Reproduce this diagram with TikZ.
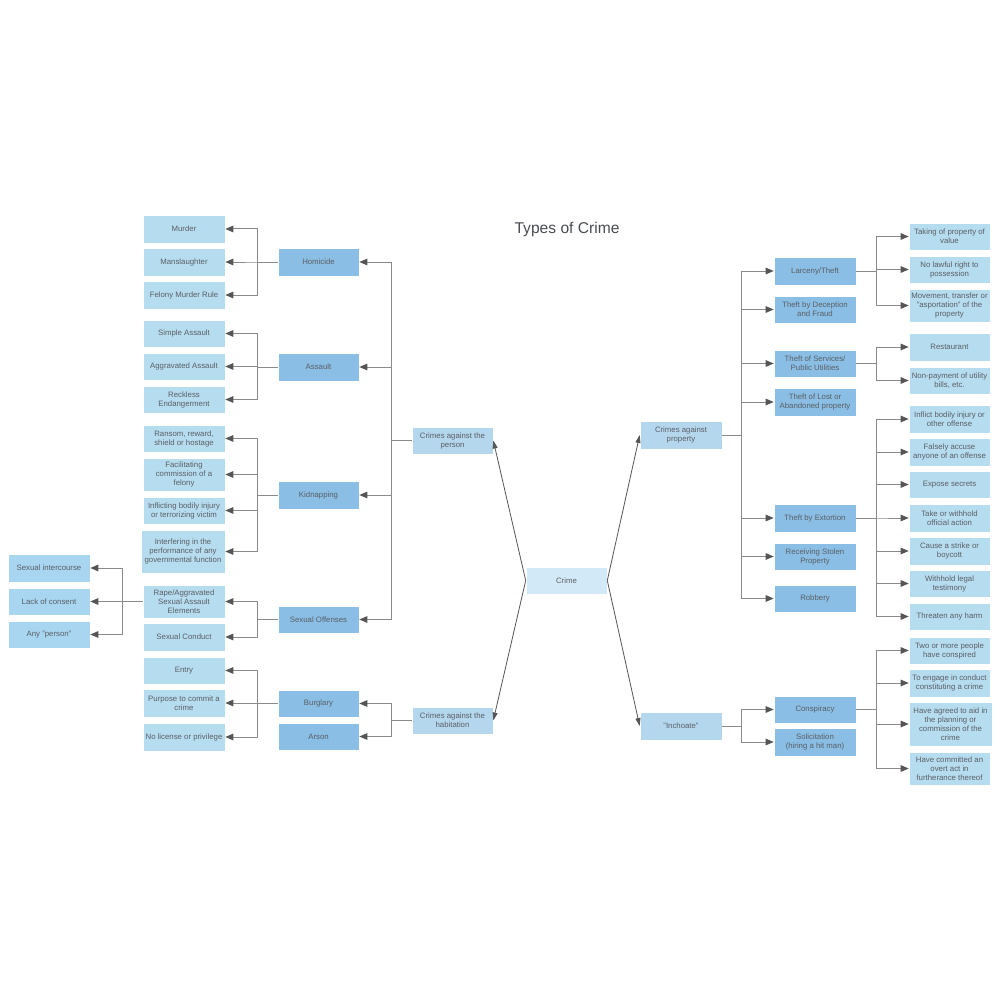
\documentclass[tikz,border=0pt]{standalone}
\usepackage{fontspec}
\setmainfont{Liberation Sans}
\usetikzlibrary{arrows.meta}
\definecolor{leafc}{HTML}{B6DCEF}
\definecolor{farc}{HTML}{A8D5F0}
\definecolor{lvtwo}{HTML}{8ABEE4}
\definecolor{lvone}{HTML}{B5D7EE}
\definecolor{crimec}{HTML}{D2EAF7}
\definecolor{txtc}{HTML}{5A5F66}
\definecolor{linec}{HTML}{8A8A8A}
\definecolor{tipc}{HTML}{555555}
\tikzset{
  bx/.style={draw=white, line width=0.6pt, align=center, inner sep=1pt, text=txtc,
     font=\fontsize{7.8}{9}\selectfont, minimum width=#1},
  bx/.default=82,
  leaf/.style={bx, fill=leafc},
  far/.style={bx, fill=farc},
  lt/.style={bx=81, fill=lvtwo},
  rt/.style={bx=82, fill=lvtwo},
  lo/.style={bx=81, fill=lvone},
  rleaf/.style={bx=81, fill=leafc},
  conn/.style={draw=linec, line width=1pt, -{Triangle[length=8pt,width=6.5pt,fill=tipc,color=tipc]}},
  thin/.style={draw=tipc, line width=0.8pt, -{Triangle[length=8pt,width=5pt,fill=tipc,color=tipc]}},
}
\begin{document}
\begin{tikzpicture}[x=1pt,y=-1pt]
\useasboundingbox[fill=white] (0,0) rectangle (1000,1000);
\node[text=txtc!80!black, font=\fontsize{15.6}{18}\selectfont] (title) at (567,229) {Types of Crime};

% left leaves
\node[leaf, minimum height=28] (murder) at (184,229) {Murder};
\node[leaf, minimum height=28] (mansl) at (184,262) {Manslaughter};
\node[leaf, minimum height=28] (felony) at (184,295) {Felony Murder Rule};
\node[leaf, minimum height=27] (simple) at (184,333.5) {Simple Assault};
\node[leaf, minimum height=27] (aggr) at (184,366.5) {Aggravated Assault};
\node[leaf, minimum height=27] (reckless) at (184,399.5) {Reckless\\Endangerment};
\node[leaf, minimum height=27] (ransom) at (184,438.5) {Ransom, reward,\\shield or hostage};
\node[leaf, minimum height=33] (facil) at (184,474.5) {Facilitating\\commission of a\\felony};
\node[leaf, minimum height=27] (inflict) at (184,510.5) {Inflicting bodily injury\\or terrorizing victim};
\node[leaf, minimum height=43, minimum width=84] (interf) at (183,551.5) {Interfering in the\\performance of any\\governmental function};
\node[leaf, minimum height=33] (rape) at (184,601.5) {Rape/Aggravated\\Sexual Assault\\Elements};
\node[leaf, minimum height=28] (sconduct) at (184,637) {Sexual Conduct};
\node[leaf, minimum height=27] (entry) at (184,670.5) {Entry};
\node[leaf, minimum height=28] (purpose) at (184,703) {Purpose to commit a\\crime};
\node[leaf, minimum height=28] (nolic) at (184,737) {No license or privilege};

% far left
\node[far, minimum height=28] (sexint) at (49,568) {Sexual intercourse};
\node[far, minimum height=27] (lack) at (49,601.5) {Lack of consent};
\node[far, minimum height=27] (anyp) at (49,634.5) {Any "person"};

% left level 2
\node[lt, minimum height=28] (homicide) at (318.5,262) {Homicide};
\node[lt, minimum height=28] (assault) at (318.5,367) {Assault};
\node[lt, minimum height=28] (kidnap) at (318.5,495) {Kidnapping};
\node[lt, minimum height=27] (sexoff) at (318.5,619.5) {Sexual Offenses};
\node[lt, minimum height=27] (burglary) at (318.5,703.5) {Burglary};
\node[lt, minimum height=27] (arson) at (318.5,736.5) {Arson};

% level 1 and root
\node[lo, minimum height=27] (person) at (452.5,440.5) {Crimes against the\\person};
\node[lo, minimum height=27] (habit) at (452.5,720.5) {Crimes against the\\habitation};
\node[bx=81, fill=crimec, minimum height=27] (crime) at (566.5,580.5) {Crime};
\node[bx=82, fill=lvone, minimum height=28] (property) at (681,435) {Crimes against\\property};
\node[bx=82, fill=lvone, minimum height=28] (inchoate) at (681,726) {"Inchoate"};

% right level 2
\node[rt, minimum height=28] (larceny) at (815,271) {Larceny/Theft};
\node[rt, minimum height=27] (deception) at (815,309.5) {Theft by Deception\\and Fraud};
\node[rt, minimum height=27] (services) at (815,363.5) {Theft of Services/\\Public Utilities};
\node[rt, minimum height=28] (lost) at (815,402) {Theft of Lost or\\Abandoned property};
\node[rt, minimum height=28] (extortion) at (815,518) {Theft by Extortion};
\node[rt, minimum height=27] (receiving) at (815,556.5) {Receiving Stolen\\Property};
\node[rt, minimum height=27] (robbery) at (815,598.5) {Robbery};
\node[rt, minimum height=27] (conspiracy) at (815,709.5) {Conspiracy};
\node[rt, minimum height=28] (solicit) at (815,742) {Solicitation\\(hiring a hit man)};

% right leaves
\node[rleaf, minimum height=27] (taking) at (949.5,236.5) {Taking of property of\\value};
\node[rleaf, minimum height=27] (nolawful) at (949.5,269.5) {No lawful right to\\possession};
\node[rleaf, minimum height=33] (movement) at (949.5,305.5) {Movement, transfer or\\"asportation" of the\\property};
\node[rleaf, minimum height=28] (restaurant) at (949.5,347) {Restaurant};
\node[rleaf, minimum height=27] (nonpay) at (949.5,380.5) {Non-payment of utility\\bills, etc.};
\node[rleaf, minimum height=28] (inflictb) at (949.5,419) {Inflict bodily injury or\\other offense};
\node[rleaf, minimum height=28] (falsely) at (949.5,452) {Falsely accuse\\anyone of an offense};
\node[rleaf, minimum height=27] (expose) at (949.5,484.5) {Expose secrets};
\node[rleaf, minimum height=28] (takew) at (949.5,518) {Take or withhold\\official action};
\node[rleaf, minimum height=28] (strike) at (949.5,551) {Cause a strike or\\boycott};
\node[rleaf, minimum height=27] (withhold) at (949.5,583.5) {Withhold legal\\testimony};
\node[rleaf, minimum height=27] (threaten) at (949.5,616.5) {Threaten any harm};
\node[rleaf, minimum height=27] (twomore) at (949.5,650.5) {Two or more people\\have conspired};
\node[rleaf, minimum height=28] (engage) at (949.5,683) {To engage in conduct\\constituting a crime};
\node[bx=83, fill=leafc, minimum height=44] (agreed) at (950.5,724) {Have agreed to aid in\\the planning or\\commission of the\\crime};
\node[rleaf, minimum height=33] (committed) at (949.5,768.5) {Have committed an\\overt act in\\furtherance thereof};

% connectors: root
\draw[thin] (crime.west) -- (person.east);
\draw[thin] (crime.west) -- (habit.east);
\draw[thin] (crime.east) -- (property.west);
\draw[thin] (crime.east) -- (inchoate.west);

% left side
\foreach \t in {homicide,assault,kidnap,sexoff}
  \draw[conn] (person.west) -- ++(-20,0) |- (\t.east);
\foreach \t in {burglary,arson}
  \draw[conn] (habit.west) -- ++(-20,0) |- (\t.east);
\foreach \t in {murder,mansl,felony}
  \draw[conn] (homicide.west) -- ++(-20,0) |- (\t.east);
\foreach \t in {simple,aggr,reckless}
  \draw[conn] (assault.west) -- ++(-20,0) |- (\t.east);
\foreach \t in {ransom,facil,inflict,interf}
  \draw[conn] (kidnap.west) -- ++(-20,0) |- (\t.east);
\foreach \t in {rape,sconduct}
  \draw[conn] (sexoff.west) -- ++(-20,0) |- (\t.east);
\foreach \t in {entry,purpose,nolic}
  \draw[conn] (burglary.west) -- ++(-20,0) |- (\t.east);
\foreach \t in {sexint,lack,anyp}
  \draw[conn] (rape.west) -- ++(-20,0) |- (\t.east);

% right side
\foreach \t in {larceny,deception,services,lost,extortion,receiving,robbery}
  \draw[conn] (property.east) -- ++(19,0) |- (\t.west);
\foreach \t in {conspiracy,solicit}
  \draw[conn] (inchoate.east) -- ++(19,0) |- (\t.west);
\foreach \t in {taking,nolawful,movement}
  \draw[conn] (larceny.east) -- ++(20,0) |- (\t.west);
\foreach \t in {restaurant,nonpay}
  \draw[conn] (services.east) -- ++(20,0) |- (\t.west);
\foreach \t in {inflictb,falsely,expose,takew,strike,withhold,threaten}
  \draw[conn] (extortion.east) -- ++(20,0) |- (\t.west);
\foreach \t in {twomore,engage,agreed,committed}
  \draw[conn] (conspiracy.east) -- ++(20,0) |- (\t.west);
\end{tikzpicture}
\end{document}
